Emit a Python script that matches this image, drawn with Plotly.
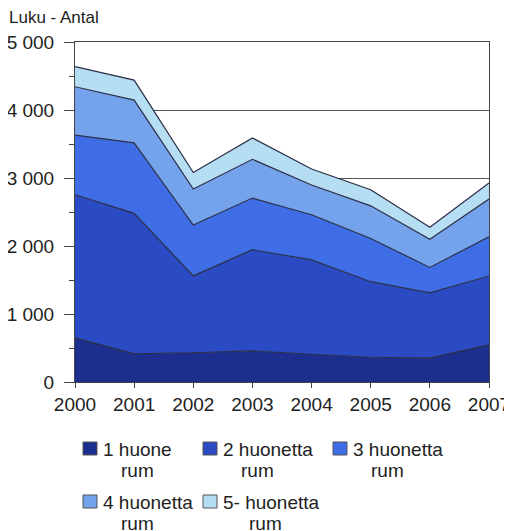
import plotly.graph_objects as go

years = [2000, 2001, 2002, 2003, 2004, 2005, 2006, 2007]
series_names = ["1 huone rum", "2 huonetta rum", "3 huonetta rum",
                "4 huonetta rum", "5- huonetta rum"]
legend_line1 = ["1 huone", "2 huonetta", "3 huonetta", "4 huonetta", "5- huonetta"]
legend_line2 = ["rum", "rum", "rum", "rum", "rum"]
r1 = [649, 413, 430, 457, 408, 364, 350, 546]
r2 = [2105, 2067, 1130, 1488, 1387, 1111, 960, 1013]
r3 = [876, 1036, 749, 760, 664, 635, 375, 576]
r4 = [712, 629, 529, 570, 438, 481, 415, 555]
r5 = [295, 295, 242, 315, 236, 236, 177, 236]
colors = ["#1c2e8e", "#2a4bc4", "#3e6de6", "#74a3ec", "#b6def3"]

ytick_vals = [0, 1000, 2000, 3000, 4000, 5000]
ytick_text = ["0", "1 000", "2 000", "3 000", "4 000", "5 000"]

# page body has an 8px margin: build the figure 8px smaller and shift coords
OFF = 8
W, H = 512 - OFF, 531 - OFF
L, T = 75 - OFF, 42 - OFF
PR, PB = 489 - OFF, 382 - OFF          # plot right / bottom in figure px
R, B = W - PR, H - PB
PW, PH = PR - L, PB - T


def px(x):
    return (x - OFF - L) / PW


def py(y):
    return (PB - (y - OFF)) / PH


fig = go.Figure()
for name, vals, col in zip(series_names, [r1, r2, r3, r4, r5], colors):
    fig.add_trace(go.Scatter(
        x=years, y=vals, name=name, mode="lines", stackgroup="one",
        line=dict(color="#2a2f45", width=1.2), fillcolor=col, showlegend=False,
    ))

# manual legend (page px: swatch left, swatch top, text x line1, text x line2)
legend_pos = [
    (83, 442, 102, 120),
    (203, 442, 222, 240),
    (333, 442, 352, 370),
    (83, 495, 102, 120),
    (203, 495, 222, 248),
]
shapes = []
annotations = []
for (sx, sy, tx1, tx2), col, l1, l2 in zip(legend_pos, colors, legend_line1, legend_line2):
    shapes.append(dict(type="rect", xref="paper", yref="paper",
                       x0=px(sx), x1=px(sx + 14), y0=py(sy), y1=py(sy + 13),
                       fillcolor=col, line=dict(color="#555555", width=1)))
    annotations.append(dict(text=l1, xref="paper", yref="paper", x=px(tx1 - 1), y=py(sy + 7),
                            xanchor="left", yanchor="middle", showarrow=False,
                            font=dict(size=19, color="#222222")))
    annotations.append(dict(text=l2, xref="paper", yref="paper", x=px(tx2 - 1), y=py(sy + 28),
                            xanchor="left", yanchor="middle", showarrow=False,
                            font=dict(size=19, color="#222222")))

annotations.append(dict(
    text="Luku - Antal", xref="paper", yref="paper", x=px(7), y=py(17),
    xanchor="left", yanchor="middle", showarrow=False,
    font=dict(size=17, color="#222222"),
))

axis_col = "#444444"
fig.update_layout(
    width=W, height=H,
    margin=dict(l=L, r=R, t=T, b=B, autoexpand=False),
    paper_bgcolor="white", plot_bgcolor="white",
    font=dict(family="Liberation Sans, Arial, sans-serif", size=19, color="#222222"),
    showlegend=False,
    shapes=shapes,
    annotations=annotations,
)
fig.update_xaxes(
    range=[2000, 2007], tickvals=years, ticktext=[str(y) for y in years],
    showgrid=False, showline=True, linecolor=axis_col, linewidth=1, mirror=True,
    ticks="outside", ticklen=5, tickcolor=axis_col, tickfont=dict(size=19),
    automargin=False,
)
fig.update_yaxes(
    range=[0, 5000], tickvals=ytick_vals, ticktext=ytick_text,
    showgrid=True, gridcolor="#555555", gridwidth=1,
    showline=True, linecolor=axis_col, linewidth=1, mirror=True,
    ticks="outside", ticklen=10, tickcolor=axis_col, tickfont=dict(size=19),
    ticklabelstandoff=6,
    minor=dict(dtick=500, tick0=0, ticks="outside", ticklen=5, tickcolor=axis_col, showgrid=False),
    zeroline=False, automargin=False,
)
fig.write_html("out.html")
